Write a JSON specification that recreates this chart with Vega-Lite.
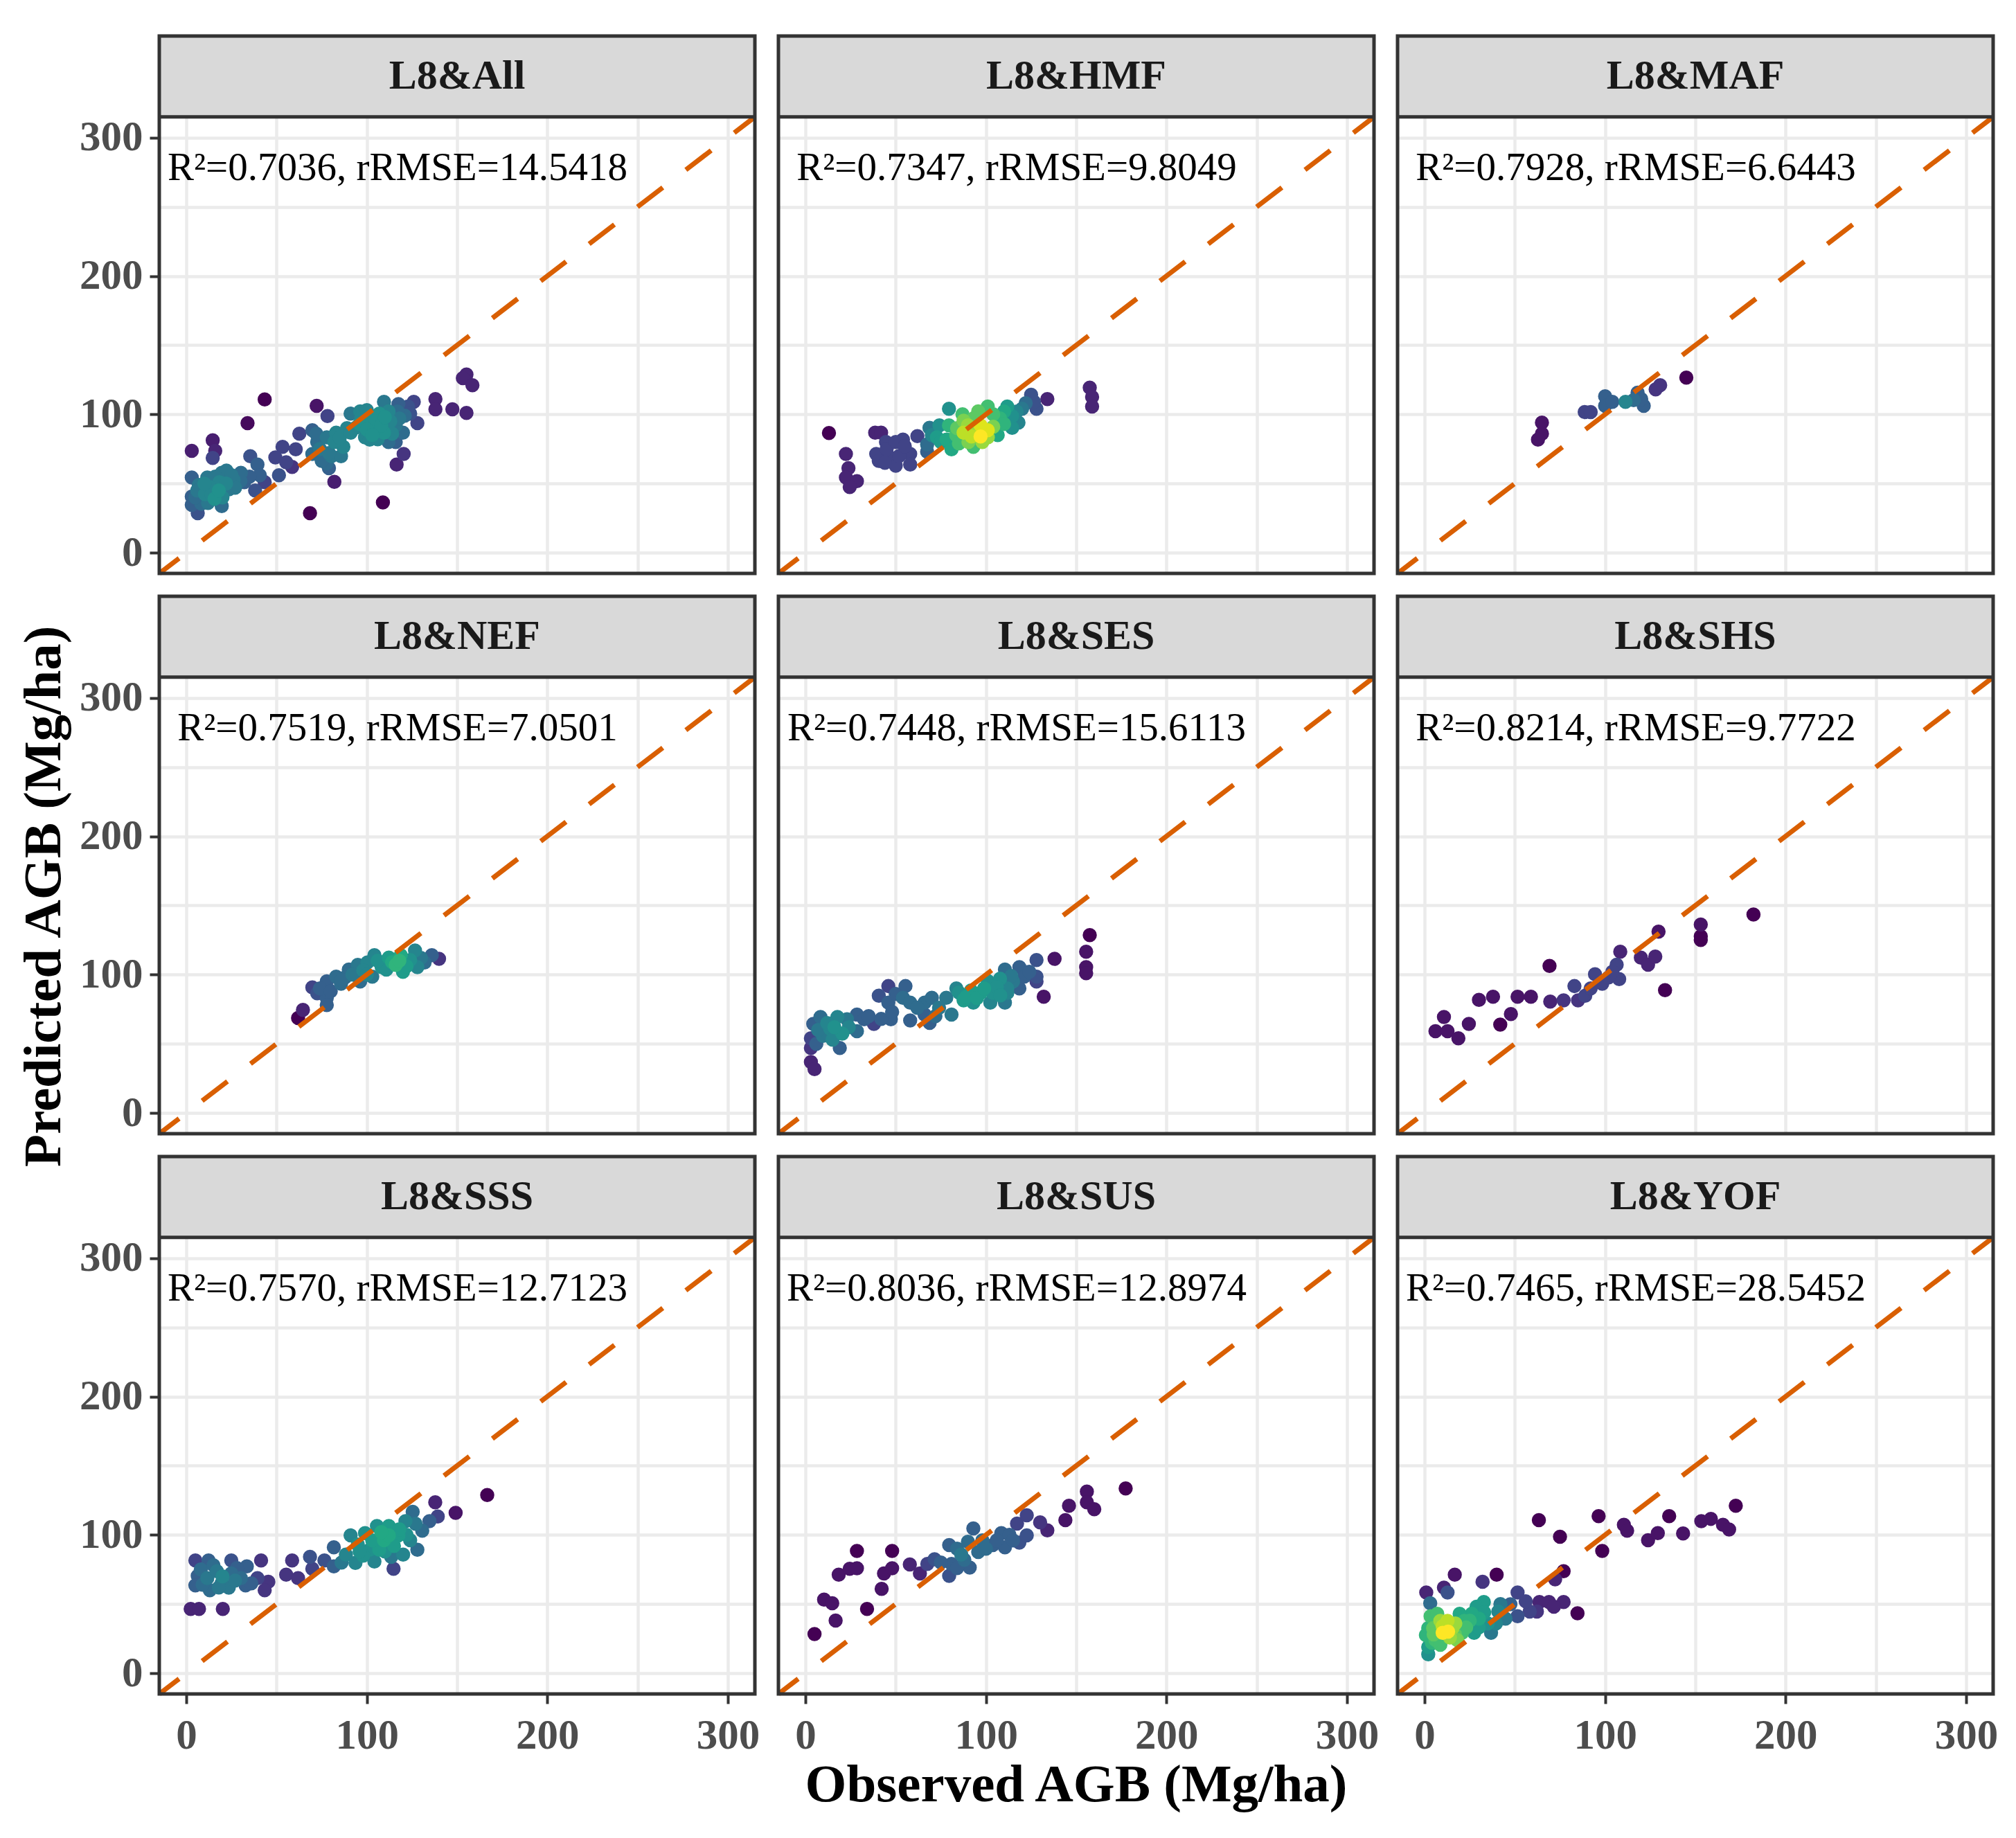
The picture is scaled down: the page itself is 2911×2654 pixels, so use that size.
{
  "$schema": "https://vega.github.io/schema/vega-lite/v6.json",
  "background": "white",
  "padding": {"left": 24, "top": 48, "right": 20, "bottom": 10},
  "bounds": "flush",
  "title": {"text": "Predicted AGB (Mg/ha)", "orient": "left", "anchor": "middle", "font": "Liberation Serif", "fontSize": 77, "fontWeight": "bold", "color": "#000000", "offset": 12, "dx": 38},
  "data": {"values": [
    {"p":"L8&All","k":"lab","label":"R²=0.7036, rRMSE=14.5418"},
    {"p":"L8&HMF","k":"lab","label":"R²=0.7347, rRMSE=9.8049"},
    {"p":"L8&MAF","k":"lab","label":"R²=0.7928, rRMSE=6.6443"},
    {"p":"L8&NEF","k":"lab","label":"R²=0.7519, rRMSE=7.0501"},
    {"p":"L8&SES","k":"lab","label":"R²=0.7448, rRMSE=15.6113"},
    {"p":"L8&SHS","k":"lab","label":"R²=0.8214, rRMSE=9.7722"},
    {"p":"L8&SSS","k":"lab","label":"R²=0.7570, rRMSE=12.7123"},
    {"p":"L8&SUS","k":"lab","label":"R²=0.8036, rRMSE=12.8974"},
    {"p":"L8&YOF","k":"lab","label":"R²=0.7465, rRMSE=28.5452"},
    {"p":"L8&All","k":"pt","x":43.4,"y":110.8,"d":0},
    {"p":"L8&All","k":"pt","x":33.9,"y":93.7,"d":0.02},
    {"p":"L8&All","k":"pt","x":14.6,"y":81.2,"d":0.08},
    {"p":"L8&All","k":"pt","x":3.0,"y":73.6,"d":0.08},
    {"p":"L8&All","k":"pt","x":16,"y":73.6,"d":0.1},
    {"p":"L8&All","k":"pt","x":14.6,"y":68.5,"d":0.2},
    {"p":"L8&All","k":"pt","x":72.2,"y":106.2,"d":0.05},
    {"p":"L8&All","k":"pt","x":78.2,"y":98.8,"d":0.2},
    {"p":"L8&All","k":"pt","x":82,"y":51.2,"d":0.08},
    {"p":"L8&All","k":"pt","x":68.5,"y":28.6,"d":0},
    {"p":"L8&All","k":"pt","x":108.9,"y":36.3,"d":0},
    {"p":"L8&All","k":"pt","x":138,"y":111,"d":0.1},
    {"p":"L8&All","k":"pt","x":138,"y":103.6,"d":0.1},
    {"p":"L8&All","k":"pt","x":147.4,"y":103.6,"d":0.1},
    {"p":"L8&All","k":"pt","x":155.2,"y":101,"d":0.1},
    {"p":"L8&All","k":"pt","x":155.2,"y":128.8,"d":0.1},
    {"p":"L8&All","k":"pt","x":153.2,"y":126.2,"d":0.1},
    {"p":"L8&All","k":"pt","x":158.5,"y":121,"d":0.1},
    {"p":"L8&All","k":"pt","x":116.5,"y":63.7,"d":0.1},
    {"p":"L8&All","k":"pt","x":120.4,"y":71.4,"d":0.15},
    {"p":"L8&All","k":"pt","x":128,"y":93.7,"d":0.2},
    {"p":"L8&All","k":"pt","x":126,"y":109,"d":0.2},
    {"p":"L8&All","k":"pt","x":62.6,"y":86,"d":0.2},
    {"p":"L8&All","k":"pt","x":53.3,"y":76.5,"d":0.2},
    {"p":"L8&All","k":"pt","x":60.6,"y":74.8,"d":0.2},
    {"p":"L8&All","k":"pt","x":49.3,"y":68.8,"d":0.2},
    {"p":"L8&All","k":"pt","x":58.6,"y":62,"d":0.15},
    {"p":"L8&All","k":"pt","x":51.3,"y":56,"d":0.25},
    {"p":"L8&All","k":"pt","x":55.3,"y":65.4,"d":0.2},
    {"p":"L8&All","k":"pt","x":43.4,"y":50.9,"d":0.2},
    {"p":"L8&All","k":"pt","x":38.1,"y":44.9,"d":0.25},
    {"p":"L8&All","k":"pt","x":35.4,"y":69.7,"d":0.25},
    {"p":"L8&All","k":"pt","x":39.4,"y":63.7,"d":0.3},
    {"p":"L8&All","k":"pt","x":40.7,"y":56,"d":0.3},
    {"p":"L8&All","k":"pt","x":3,"y":54.3,"d":0.3},
    {"p":"L8&All","k":"pt","x":3,"y":40.6,"d":0.3},
    {"p":"L8&All","k":"pt","x":3,"y":34.6,"d":0.3},
    {"p":"L8&All","k":"pt","x":6.3,"y":28.6,"d":0.25},
    {"p":"L8&All","k":"pt","x":6.9,"y":49,"d":0.4},
    {"p":"L8&All","k":"pt","x":10.3,"y":42.3,"d":0.45},
    {"p":"L8&All","k":"pt","x":11.6,"y":54.3,"d":0.4},
    {"p":"L8&All","k":"pt","x":15.6,"y":38.9,"d":0.5},
    {"p":"L8&All","k":"pt","x":18.3,"y":50.9,"d":0.45},
    {"p":"L8&All","k":"pt","x":19.6,"y":57.7,"d":0.4},
    {"p":"L8&All","k":"pt","x":22.2,"y":59.4,"d":0.4},
    {"p":"L8&All","k":"pt","x":23.5,"y":45.7,"d":0.4},
    {"p":"L8&All","k":"pt","x":26.2,"y":52.6,"d":0.4},
    {"p":"L8&All","k":"pt","x":30.2,"y":57.7,"d":0.35},
    {"p":"L8&All","k":"pt","x":19.6,"y":33.7,"d":0.35},
    {"p":"L8&All","k":"pt","x":8.3,"y":35.4,"d":0.35},
    {"p":"L8&All","k":"pt","x":13,"y":47.4,"d":0.45},
    {"p":"L8&All","k":"pt","x":32.1,"y":50.9,"d":0.3},
    {"p":"L8&All","k":"pt","x":6,"y":45,"d":0.4},
    {"p":"L8&All","k":"pt","x":14,"y":42,"d":0.45},
    {"p":"L8&All","k":"pt","x":18,"y":45,"d":0.5},
    {"p":"L8&All","k":"pt","x":22,"y":50,"d":0.45},
    {"p":"L8&All","k":"pt","x":27,"y":47,"d":0.4},
    {"p":"L8&All","k":"pt","x":10,"y":50,"d":0.45},
    {"p":"L8&All","k":"pt","x":16,"y":55,"d":0.4},
    {"p":"L8&All","k":"pt","x":25,"y":56,"d":0.4},
    {"p":"L8&All","k":"pt","x":12,"y":36,"d":0.4},
    {"p":"L8&All","k":"pt","x":5,"y":40,"d":0.35},
    {"p":"L8&All","k":"pt","x":30,"y":52,"d":0.35},
    {"p":"L8&All","k":"pt","x":20,"y":40,"d":0.45},
    {"p":"L8&All","k":"pt","x":35,"y":55,"d":0.3},
    {"p":"L8&All","k":"pt","x":69.8,"y":88.5,"d":0.3},
    {"p":"L8&All","k":"pt","x":72.5,"y":80,"d":0.35},
    {"p":"L8&All","k":"pt","x":77.8,"y":83.4,"d":0.4},
    {"p":"L8&All","k":"pt","x":83,"y":86.8,"d":0.45},
    {"p":"L8&All","k":"pt","x":87,"y":76.5,"d":0.45},
    {"p":"L8&All","k":"pt","x":80.4,"y":69.7,"d":0.4},
    {"p":"L8&All","k":"pt","x":85.7,"y":69.7,"d":0.4},
    {"p":"L8&All","k":"pt","x":77.8,"y":64.6,"d":0.35},
    {"p":"L8&All","k":"pt","x":69.8,"y":71.4,"d":0.35},
    {"p":"L8&All","k":"pt","x":79,"y":61.1,"d":0.3},
    {"p":"L8&All","k":"pt","x":75,"y":66.3,"d":0.35},
    {"p":"L8&All","k":"pt","x":74,"y":75,"d":0.4},
    {"p":"L8&All","k":"pt","x":82,"y":80,"d":0.45},
    {"p":"L8&All","k":"pt","x":79,"y":72,"d":0.4},
    {"p":"L8&All","k":"pt","x":85,"y":83,"d":0.45},
    {"p":"L8&All","k":"pt","x":89,"y":90,"d":0.45},
    {"p":"L8&All","k":"pt","x":72,"y":86,"d":0.35},
    {"p":"L8&All","k":"pt","x":91,"y":100.5,"d":0.4},
    {"p":"L8&All","k":"pt","x":96.3,"y":102.2,"d":0.45},
    {"p":"L8&All","k":"pt","x":101.6,"y":97,"d":0.5},
    {"p":"L8&All","k":"pt","x":106.9,"y":100.5,"d":0.5},
    {"p":"L8&All","k":"pt","x":112,"y":102.2,"d":0.45},
    {"p":"L8&All","k":"pt","x":104,"y":90.2,"d":0.5},
    {"p":"L8&All","k":"pt","x":109.5,"y":86.8,"d":0.5},
    {"p":"L8&All","k":"pt","x":99,"y":83.4,"d":0.45},
    {"p":"L8&All","k":"pt","x":101.6,"y":81.7,"d":0.45},
    {"p":"L8&All","k":"pt","x":116,"y":92,"d":0.4},
    {"p":"L8&All","k":"pt","x":120,"y":86.8,"d":0.35},
    {"p":"L8&All","k":"pt","x":116,"y":80,"d":0.3},
    {"p":"L8&All","k":"pt","x":112,"y":80,"d":0.35},
    {"p":"L8&All","k":"pt","x":117.5,"y":107.4,"d":0.3},
    {"p":"L8&All","k":"pt","x":122.8,"y":105.7,"d":0.25},
    {"p":"L8&All","k":"pt","x":124,"y":100.5,"d":0.25},
    {"p":"L8&All","k":"pt","x":93.7,"y":90.2,"d":0.45},
    {"p":"L8&All","k":"pt","x":91,"y":86.8,"d":0.45},
    {"p":"L8&All","k":"pt","x":109.5,"y":109,"d":0.4},
    {"p":"L8&All","k":"pt","x":96,"y":93,"d":0.5},
    {"p":"L8&All","k":"pt","x":105,"y":95,"d":0.5},
    {"p":"L8&All","k":"pt","x":100,"y":89,"d":0.5},
    {"p":"L8&All","k":"pt","x":108,"y":92,"d":0.5},
    {"p":"L8&All","k":"pt","x":113,"y":95,"d":0.45},
    {"p":"L8&All","k":"pt","x":103,"y":85,"d":0.5},
    {"p":"L8&All","k":"pt","x":97,"y":98,"d":0.45},
    {"p":"L8&All","k":"pt","x":110,"y":98,"d":0.5},
    {"p":"L8&All","k":"pt","x":106,"y":82,"d":0.45},
    {"p":"L8&All","k":"pt","x":118,"y":97,"d":0.4},
    {"p":"L8&All","k":"pt","x":114,"y":86,"d":0.45},
    {"p":"L8&All","k":"pt","x":121,"y":99,"d":0.35},
    {"p":"L8&All","k":"pt","x":117,"y":102,"d":0.35},
    {"p":"L8&All","k":"pt","x":100,"y":103,"d":0.45},
    {"p":"L8&HMF","k":"pt","x":13,"y":86.5,"d":0},
    {"p":"L8&HMF","k":"pt","x":22.4,"y":71.4,"d":0.1},
    {"p":"L8&HMF","k":"pt","x":23.8,"y":61.1,"d":0.1},
    {"p":"L8&HMF","k":"pt","x":22.4,"y":54.3,"d":0.1},
    {"p":"L8&HMF","k":"pt","x":28.5,"y":51.7,"d":0.1},
    {"p":"L8&HMF","k":"pt","x":24.5,"y":47.4,"d":0.1},
    {"p":"L8&HMF","k":"pt","x":38.6,"y":86.8,"d":0.1},
    {"p":"L8&HMF","k":"pt","x":41.9,"y":86.8,"d":0.1},
    {"p":"L8&HMF","k":"pt","x":44.6,"y":80,"d":0.2},
    {"p":"L8&HMF","k":"pt","x":54,"y":81.7,"d":0.2},
    {"p":"L8&HMF","k":"pt","x":62,"y":84.2,"d":0.2},
    {"p":"L8&HMF","k":"pt","x":39.2,"y":71.4,"d":0.2},
    {"p":"L8&HMF","k":"pt","x":46,"y":69.7,"d":0.2},
    {"p":"L8&HMF","k":"pt","x":58,"y":71.4,"d":0.2},
    {"p":"L8&HMF","k":"pt","x":40.6,"y":66.3,"d":0.2},
    {"p":"L8&HMF","k":"pt","x":50,"y":62.8,"d":0.2},
    {"p":"L8&HMF","k":"pt","x":58,"y":63.7,"d":0.2},
    {"p":"L8&HMF","k":"pt","x":45,"y":75,"d":0.2},
    {"p":"L8&HMF","k":"pt","x":52,"y":70,"d":0.2},
    {"p":"L8&HMF","k":"pt","x":50,"y":80,"d":0.2},
    {"p":"L8&HMF","k":"pt","x":55,"y":77,"d":0.2},
    {"p":"L8&HMF","k":"pt","x":44,"y":65,"d":0.2},
    {"p":"L8&HMF","k":"pt","x":79.5,"y":104,"d":0.5},
    {"p":"L8&HMF","k":"pt","x":68.7,"y":90.2,"d":0.4},
    {"p":"L8&HMF","k":"pt","x":67.4,"y":78.2,"d":0.35},
    {"p":"L8&HMF","k":"pt","x":67.4,"y":73,"d":0.3},
    {"p":"L8&HMF","k":"pt","x":74.2,"y":92,"d":0.5},
    {"p":"L8&HMF","k":"pt","x":72.8,"y":83.4,"d":0.55},
    {"p":"L8&HMF","k":"pt","x":79.5,"y":92,"d":0.65},
    {"p":"L8&HMF","k":"pt","x":78.2,"y":81.7,"d":0.6},
    {"p":"L8&HMF","k":"pt","x":80.9,"y":74.8,"d":0.6},
    {"p":"L8&HMF","k":"pt","x":87.6,"y":95.4,"d":0.8},
    {"p":"L8&HMF","k":"pt","x":87.6,"y":86.8,"d":0.9},
    {"p":"L8&HMF","k":"pt","x":90.3,"y":80,"d":0.8},
    {"p":"L8&HMF","k":"pt","x":93,"y":76.5,"d":0.7},
    {"p":"L8&HMF","k":"pt","x":95.7,"y":102.2,"d":0.75},
    {"p":"L8&HMF","k":"pt","x":95.7,"y":88.5,"d":0.85},
    {"p":"L8&HMF","k":"pt","x":101,"y":105.7,"d":0.7},
    {"p":"L8&HMF","k":"pt","x":101,"y":88.5,"d":0.95},
    {"p":"L8&HMF","k":"pt","x":101,"y":83.4,"d":0.85},
    {"p":"L8&HMF","k":"pt","x":106.5,"y":85,"d":0.6},
    {"p":"L8&HMF","k":"pt","x":107.8,"y":97,"d":0.65},
    {"p":"L8&HMF","k":"pt","x":111.8,"y":105.7,"d":0.55},
    {"p":"L8&HMF","k":"pt","x":114.5,"y":90.2,"d":0.5},
    {"p":"L8&HMF","k":"pt","x":114.5,"y":98.8,"d":0.5},
    {"p":"L8&HMF","k":"pt","x":120,"y":104,"d":0.4},
    {"p":"L8&HMF","k":"pt","x":125,"y":114.2,"d":0.25},
    {"p":"L8&HMF","k":"pt","x":128,"y":104,"d":0.25},
    {"p":"L8&HMF","k":"pt","x":126.6,"y":109,"d":0.25},
    {"p":"L8&HMF","k":"pt","x":134,"y":111,"d":0.1},
    {"p":"L8&HMF","k":"pt","x":157.5,"y":119.3,"d":0.1},
    {"p":"L8&HMF","k":"pt","x":158.8,"y":112.5,"d":0.1},
    {"p":"L8&HMF","k":"pt","x":158.8,"y":105.7,"d":0.1},
    {"p":"L8&HMF","k":"pt","x":93,"y":97,"d":0.75},
    {"p":"L8&HMF","k":"pt","x":83.5,"y":85,"d":0.7},
    {"p":"L8&HMF","k":"pt","x":70,"y":85,"d":0.45},
    {"p":"L8&HMF","k":"pt","x":75,"y":80,"d":0.55},
    {"p":"L8&HMF","k":"pt","x":84,"y":90,"d":0.75},
    {"p":"L8&HMF","k":"pt","x":85,"y":79,"d":0.7},
    {"p":"L8&HMF","k":"pt","x":90,"y":92,"d":0.85},
    {"p":"L8&HMF","k":"pt","x":92,"y":84,"d":0.9},
    {"p":"L8&HMF","k":"pt","x":97,"y":92,"d":0.95},
    {"p":"L8&HMF","k":"pt","x":98,"y":80,"d":0.85},
    {"p":"L8&HMF","k":"pt","x":104,"y":91,"d":0.8},
    {"p":"L8&HMF","k":"pt","x":104,"y":100,"d":0.7},
    {"p":"L8&HMF","k":"pt","x":110,"y":93,"d":0.65},
    {"p":"L8&HMF","k":"pt","x":110,"y":102,"d":0.6},
    {"p":"L8&HMF","k":"pt","x":117,"y":102,"d":0.45},
    {"p":"L8&HMF","k":"pt","x":122,"y":108,"d":0.35},
    {"p":"L8&HMF","k":"pt","x":87,"y":100,"d":0.7},
    {"p":"L8&HMF","k":"pt","x":97,"y":84,"d":1.0},
    {"p":"L8&HMF","k":"pt","x":118,"y":94,"d":0.45},
    {"p":"L8&MAF","k":"pt","x":65,"y":94,"d":0.05},
    {"p":"L8&MAF","k":"pt","x":65,"y":86,"d":0.05},
    {"p":"L8&MAF","k":"pt","x":62.8,"y":81.8,"d":0.05},
    {"p":"L8&MAF","k":"pt","x":88.7,"y":101.6,"d":0.2},
    {"p":"L8&MAF","k":"pt","x":92,"y":101.6,"d":0.2},
    {"p":"L8&MAF","k":"pt","x":100,"y":113,"d":0.3},
    {"p":"L8&MAF","k":"pt","x":100,"y":106.2,"d":0.3},
    {"p":"L8&MAF","k":"pt","x":104,"y":109,"d":0.3},
    {"p":"L8&MAF","k":"pt","x":111.3,"y":109,"d":0.45},
    {"p":"L8&MAF","k":"pt","x":118,"y":115.7,"d":0.3},
    {"p":"L8&MAF","k":"pt","x":121.4,"y":106.2,"d":0.3},
    {"p":"L8&MAF","k":"pt","x":115.8,"y":110.3,"d":0.35},
    {"p":"L8&MAF","k":"pt","x":120,"y":111,"d":0.3},
    {"p":"L8&MAF","k":"pt","x":130.5,"y":121,"d":0.15},
    {"p":"L8&MAF","k":"pt","x":128,"y":118,"d":0.15},
    {"p":"L8&MAF","k":"pt","x":145,"y":126.6,"d":0},
    {"p":"L8&NEF","k":"pt","x":64.6,"y":74.5,"d":0.1},
    {"p":"L8&NEF","k":"pt","x":61.9,"y":68.6,"d":0},
    {"p":"L8&NEF","k":"pt","x":69.8,"y":90.8,"d":0.2},
    {"p":"L8&NEF","k":"pt","x":72.5,"y":86.5,"d":0.25},
    {"p":"L8&NEF","k":"pt","x":77.8,"y":95.1,"d":0.3},
    {"p":"L8&NEF","k":"pt","x":77.8,"y":83.1,"d":0.3},
    {"p":"L8&NEF","k":"pt","x":83,"y":98.5,"d":0.35},
    {"p":"L8&NEF","k":"pt","x":85.7,"y":93.4,"d":0.35},
    {"p":"L8&NEF","k":"pt","x":90,"y":103.7,"d":0.35},
    {"p":"L8&NEF","k":"pt","x":95,"y":107,"d":0.4},
    {"p":"L8&NEF","k":"pt","x":96.3,"y":95,"d":0.35},
    {"p":"L8&NEF","k":"pt","x":100.3,"y":108.8,"d":0.45},
    {"p":"L8&NEF","k":"pt","x":104.2,"y":114,"d":0.45},
    {"p":"L8&NEF","k":"pt","x":108.2,"y":105.4,"d":0.5},
    {"p":"L8&NEF","k":"pt","x":112.2,"y":112.3,"d":0.55},
    {"p":"L8&NEF","k":"pt","x":116,"y":107,"d":0.65},
    {"p":"L8&NEF","k":"pt","x":118.8,"y":114,"d":0.6},
    {"p":"L8&NEF","k":"pt","x":120,"y":102,"d":0.55},
    {"p":"L8&NEF","k":"pt","x":124,"y":110.5,"d":0.5},
    {"p":"L8&NEF","k":"pt","x":126.7,"y":117.4,"d":0.45},
    {"p":"L8&NEF","k":"pt","x":128,"y":105.4,"d":0.45},
    {"p":"L8&NEF","k":"pt","x":132,"y":108.8,"d":0.35},
    {"p":"L8&NEF","k":"pt","x":136,"y":114,"d":0.3},
    {"p":"L8&NEF","k":"pt","x":140,"y":111.4,"d":0.15},
    {"p":"L8&NEF","k":"pt","x":103,"y":98.5,"d":0.4},
    {"p":"L8&NEF","k":"pt","x":110.8,"y":103.7,"d":0.5},
    {"p":"L8&NEF","k":"pt","x":77.8,"y":78,"d":0.3},
    {"p":"L8&NEF","k":"pt","x":74,"y":90,"d":0.3},
    {"p":"L8&NEF","k":"pt","x":80,"y":88,"d":0.3},
    {"p":"L8&NEF","k":"pt","x":88,"y":98,"d":0.35},
    {"p":"L8&NEF","k":"pt","x":92,"y":100,"d":0.4},
    {"p":"L8&NEF","k":"pt","x":98,"y":103,"d":0.45},
    {"p":"L8&NEF","k":"pt","x":106,"y":110,"d":0.5},
    {"p":"L8&NEF","k":"pt","x":114,"y":109,"d":0.6},
    {"p":"L8&NEF","k":"pt","x":122,"y":106,"d":0.55},
    {"p":"L8&NEF","k":"pt","x":118,"y":110,"d":0.65},
    {"p":"L8&NEF","k":"pt","x":130,"y":112,"d":0.4},
    {"p":"L8&NEF","k":"pt","x":86,"y":96,"d":0.35},
    {"p":"L8&NEF","k":"pt","x":100,"y":100,"d":0.45},
    {"p":"L8&SES","k":"pt","x":3,"y":47,"d":0.15},
    {"p":"L8&SES","k":"pt","x":3,"y":36.8,"d":0.1},
    {"p":"L8&SES","k":"pt","x":5,"y":31.7,"d":0.1},
    {"p":"L8&SES","k":"pt","x":3,"y":54,"d":0.2},
    {"p":"L8&SES","k":"pt","x":4.3,"y":64.3,"d":0.3},
    {"p":"L8&SES","k":"pt","x":8.3,"y":69.4,"d":0.35},
    {"p":"L8&SES","k":"pt","x":9.7,"y":55.7,"d":0.4},
    {"p":"L8&SES","k":"pt","x":13.7,"y":60.8,"d":0.45},
    {"p":"L8&SES","k":"pt","x":17.7,"y":69.4,"d":0.45},
    {"p":"L8&SES","k":"pt","x":20.4,"y":57.4,"d":0.5},
    {"p":"L8&SES","k":"pt","x":19,"y":47,"d":0.3},
    {"p":"L8&SES","k":"pt","x":23,"y":67.7,"d":0.4},
    {"p":"L8&SES","k":"pt","x":28.5,"y":71.1,"d":0.3},
    {"p":"L8&SES","k":"pt","x":28.5,"y":59.1,"d":0.35},
    {"p":"L8&SES","k":"pt","x":32.5,"y":67.7,"d":0.3},
    {"p":"L8&SES","k":"pt","x":37.9,"y":64.3,"d":0.2},
    {"p":"L8&SES","k":"pt","x":47.3,"y":67.7,"d":0.3},
    {"p":"L8&SES","k":"pt","x":40.6,"y":84.8,"d":0.25},
    {"p":"L8&SES","k":"pt","x":45.9,"y":91.7,"d":0.2},
    {"p":"L8&SES","k":"pt","x":55.4,"y":91.7,"d":0.3},
    {"p":"L8&SES","k":"pt","x":45.9,"y":79.7,"d":0.3},
    {"p":"L8&SES","k":"pt","x":54,"y":83.2,"d":0.35},
    {"p":"L8&SES","k":"pt","x":58,"y":79.7,"d":0.35},
    {"p":"L8&SES","k":"pt","x":66,"y":79.7,"d":0.35},
    {"p":"L8&SES","k":"pt","x":70,"y":83.2,"d":0.35},
    {"p":"L8&SES","k":"pt","x":58,"y":66.8,"d":0.3},
    {"p":"L8&SES","k":"pt","x":66,"y":71.1,"d":0.3},
    {"p":"L8&SES","k":"pt","x":68.8,"y":65.1,"d":0.3},
    {"p":"L8&SES","k":"pt","x":78,"y":83.2,"d":0.4},
    {"p":"L8&SES","k":"pt","x":80.9,"y":71.1,"d":0.4},
    {"p":"L8&SES","k":"pt","x":83.6,"y":90,"d":0.45},
    {"p":"L8&SES","k":"pt","x":87.6,"y":81.4,"d":0.55},
    {"p":"L8&SES","k":"pt","x":91.7,"y":88.5,"d":0.55},
    {"p":"L8&SES","k":"pt","x":93,"y":79.7,"d":0.5},
    {"p":"L8&SES","k":"pt","x":97,"y":86.8,"d":0.55},
    {"p":"L8&SES","k":"pt","x":101,"y":95.4,"d":0.5},
    {"p":"L8&SES","k":"pt","x":102.4,"y":79.7,"d":0.45},
    {"p":"L8&SES","k":"pt","x":103.8,"y":86.8,"d":0.5},
    {"p":"L8&SES","k":"pt","x":107.8,"y":97,"d":0.5},
    {"p":"L8&SES","k":"pt","x":110.5,"y":79.7,"d":0.4},
    {"p":"L8&SES","k":"pt","x":111.8,"y":86.8,"d":0.45},
    {"p":"L8&SES","k":"pt","x":110.5,"y":103.7,"d":0.35},
    {"p":"L8&SES","k":"pt","x":111.8,"y":90,"d":0.45},
    {"p":"L8&SES","k":"pt","x":118.5,"y":90,"d":0.3},
    {"p":"L8&SES","k":"pt","x":118.5,"y":105.4,"d":0.3},
    {"p":"L8&SES","k":"pt","x":121.2,"y":98.5,"d":0.3},
    {"p":"L8&SES","k":"pt","x":128,"y":110.5,"d":0.25},
    {"p":"L8&SES","k":"pt","x":128,"y":98.5,"d":0.25},
    {"p":"L8&SES","k":"pt","x":128,"y":95,"d":0.2},
    {"p":"L8&SES","k":"pt","x":138,"y":111.4,"d":0.05},
    {"p":"L8&SES","k":"pt","x":132,"y":84,"d":0.05},
    {"p":"L8&SES","k":"pt","x":157.5,"y":128.5,"d":0},
    {"p":"L8&SES","k":"pt","x":155.5,"y":116.5,"d":0.05},
    {"p":"L8&SES","k":"pt","x":155.5,"y":105.4,"d":0.05},
    {"p":"L8&SES","k":"pt","x":155.5,"y":101,"d":0.05},
    {"p":"L8&SES","k":"pt","x":7,"y":60,"d":0.4},
    {"p":"L8&SES","k":"pt","x":12,"y":65,"d":0.45},
    {"p":"L8&SES","k":"pt","x":16,"y":62,"d":0.5},
    {"p":"L8&SES","k":"pt","x":15,"y":53,"d":0.45},
    {"p":"L8&SES","k":"pt","x":24,"y":62,"d":0.45},
    {"p":"L8&SES","k":"pt","x":6,"y":50,"d":0.3},
    {"p":"L8&SES","k":"pt","x":35,"y":70,"d":0.3},
    {"p":"L8&SES","k":"pt","x":42,"y":68,"d":0.3},
    {"p":"L8&SES","k":"pt","x":50,"y":86,"d":0.3},
    {"p":"L8&SES","k":"pt","x":48,"y":73,"d":0.3},
    {"p":"L8&SES","k":"pt","x":62,"y":76,"d":0.35},
    {"p":"L8&SES","k":"pt","x":74,"y":76,"d":0.4},
    {"p":"L8&SES","k":"pt","x":85,"y":87,"d":0.5},
    {"p":"L8&SES","k":"pt","x":89,"y":84,"d":0.55},
    {"p":"L8&SES","k":"pt","x":95,"y":83,"d":0.55},
    {"p":"L8&SES","k":"pt","x":99,"y":90,"d":0.55},
    {"p":"L8&SES","k":"pt","x":106,"y":91,"d":0.5},
    {"p":"L8&SES","k":"pt","x":115,"y":95,"d":0.4},
    {"p":"L8&SES","k":"pt","x":108,"y":85,"d":0.5},
    {"p":"L8&SES","k":"pt","x":124,"y":102,"d":0.3},
    {"p":"L8&SES","k":"pt","x":114,"y":99,"d":0.4},
    {"p":"L8&SES","k":"pt","x":72,"y":70,"d":0.35},
    {"p":"L8&SHS","k":"pt","x":6,"y":59.1,"d":0.05},
    {"p":"L8&SHS","k":"pt","x":10.7,"y":69.4,"d":0.05},
    {"p":"L8&SHS","k":"pt","x":12.7,"y":59.1,"d":0.05},
    {"p":"L8&SHS","k":"pt","x":18.7,"y":54,"d":0.05},
    {"p":"L8&SHS","k":"pt","x":24.5,"y":64.3,"d":0.05},
    {"p":"L8&SHS","k":"pt","x":30.1,"y":81.7,"d":0.05},
    {"p":"L8&SHS","k":"pt","x":37.9,"y":84,"d":0.05},
    {"p":"L8&SHS","k":"pt","x":41.9,"y":63.9,"d":0},
    {"p":"L8&SHS","k":"pt","x":47.8,"y":71.5,"d":0.05},
    {"p":"L8&SHS","k":"pt","x":51.5,"y":84,"d":0.05},
    {"p":"L8&SHS","k":"pt","x":58.9,"y":84,"d":0.05},
    {"p":"L8&SHS","k":"pt","x":69.2,"y":106.3,"d":0},
    {"p":"L8&SHS","k":"pt","x":69.6,"y":80.5,"d":0.1},
    {"p":"L8&SHS","k":"pt","x":77,"y":81.4,"d":0.15},
    {"p":"L8&SHS","k":"pt","x":85,"y":81.4,"d":0.15},
    {"p":"L8&SHS","k":"pt","x":83,"y":91.7,"d":0.2},
    {"p":"L8&SHS","k":"pt","x":89,"y":84.8,"d":0.2},
    {"p":"L8&SHS","k":"pt","x":94.4,"y":100.3,"d":0.2},
    {"p":"L8&SHS","k":"pt","x":98.4,"y":93.4,"d":0.2},
    {"p":"L8&SHS","k":"pt","x":106.4,"y":107.1,"d":0.2},
    {"p":"L8&SHS","k":"pt","x":107.8,"y":96.8,"d":0.2},
    {"p":"L8&SHS","k":"pt","x":92,"y":90,"d":0.2},
    {"p":"L8&SHS","k":"pt","x":102,"y":98,"d":0.2},
    {"p":"L8&SHS","k":"pt","x":104,"y":102,"d":0.2},
    {"p":"L8&SHS","k":"pt","x":108.4,"y":116.5,"d":0.1},
    {"p":"L8&SHS","k":"pt","x":119.8,"y":112.3,"d":0.1},
    {"p":"L8&SHS","k":"pt","x":123.8,"y":107.1,"d":0.1},
    {"p":"L8&SHS","k":"pt","x":127.8,"y":113.1,"d":0.1},
    {"p":"L8&SHS","k":"pt","x":129.6,"y":131.1,"d":0.05},
    {"p":"L8&SHS","k":"pt","x":133.2,"y":88.8,"d":0},
    {"p":"L8&SHS","k":"pt","x":153,"y":136.2,"d":0.05},
    {"p":"L8&SHS","k":"pt","x":153,"y":127.7,"d":0},
    {"p":"L8&SHS","k":"pt","x":153,"y":125.1,"d":0},
    {"p":"L8&SHS","k":"pt","x":182.2,"y":143.4,"d":0},
    {"p":"L8&SSS","k":"pt","x":2.4,"y":46.4,"d":0.1},
    {"p":"L8&SSS","k":"pt","x":7,"y":46.4,"d":0.1},
    {"p":"L8&SSS","k":"pt","x":20.2,"y":46.4,"d":0.1},
    {"p":"L8&SSS","k":"pt","x":5,"y":81.5,"d":0.2},
    {"p":"L8&SSS","k":"pt","x":12.3,"y":81.5,"d":0.3},
    {"p":"L8&SSS","k":"pt","x":24.9,"y":81.5,"d":0.25},
    {"p":"L8&SSS","k":"pt","x":33.5,"y":77.3,"d":0.3},
    {"p":"L8&SSS","k":"pt","x":41.4,"y":81.5,"d":0.15},
    {"p":"L8&SSS","k":"pt","x":6.3,"y":70.4,"d":0.3},
    {"p":"L8&SSS","k":"pt","x":5,"y":63.5,"d":0.3},
    {"p":"L8&SSS","k":"pt","x":13,"y":60,"d":0.35},
    {"p":"L8&SSS","k":"pt","x":11.6,"y":68.7,"d":0.4},
    {"p":"L8&SSS","k":"pt","x":16.9,"y":73.8,"d":0.4},
    {"p":"L8&SSS","k":"pt","x":19.6,"y":65.2,"d":0.4},
    {"p":"L8&SSS","k":"pt","x":23.5,"y":61.8,"d":0.4},
    {"p":"L8&SSS","k":"pt","x":24.9,"y":72.1,"d":0.35},
    {"p":"L8&SSS","k":"pt","x":30.2,"y":68.7,"d":0.35},
    {"p":"L8&SSS","k":"pt","x":32.8,"y":63.5,"d":0.3},
    {"p":"L8&SSS","k":"pt","x":39.4,"y":68.7,"d":0.2},
    {"p":"L8&SSS","k":"pt","x":45.4,"y":66.1,"d":0.15},
    {"p":"L8&SSS","k":"pt","x":43.4,"y":60,"d":0.15},
    {"p":"L8&SSS","k":"pt","x":8,"y":75,"d":0.35},
    {"p":"L8&SSS","k":"pt","x":15,"y":78,"d":0.35},
    {"p":"L8&SSS","k":"pt","x":20,"y":70,"d":0.45},
    {"p":"L8&SSS","k":"pt","x":27,"y":67,"d":0.4},
    {"p":"L8&SSS","k":"pt","x":9,"y":64,"d":0.35},
    {"p":"L8&SSS","k":"pt","x":18,"y":62,"d":0.4},
    {"p":"L8&SSS","k":"pt","x":28,"y":76,"d":0.3},
    {"p":"L8&SSS","k":"pt","x":36,"y":65,"d":0.3},
    {"p":"L8&SSS","k":"pt","x":55.3,"y":71.2,"d":0.15},
    {"p":"L8&SSS","k":"pt","x":58.6,"y":81.5,"d":0.15},
    {"p":"L8&SSS","k":"pt","x":61.9,"y":68.7,"d":0.15},
    {"p":"L8&SSS","k":"pt","x":68.5,"y":84.1,"d":0.25},
    {"p":"L8&SSS","k":"pt","x":69.8,"y":75.5,"d":0.2},
    {"p":"L8&SSS","k":"pt","x":76.5,"y":81.5,"d":0.25},
    {"p":"L8&SSS","k":"pt","x":81.7,"y":91,"d":0.3},
    {"p":"L8&SSS","k":"pt","x":81.7,"y":77.3,"d":0.3},
    {"p":"L8&SSS","k":"pt","x":88.4,"y":85.8,"d":0.45},
    {"p":"L8&SSS","k":"pt","x":91,"y":99.6,"d":0.45},
    {"p":"L8&SSS","k":"pt","x":93.7,"y":79.8,"d":0.45},
    {"p":"L8&SSS","k":"pt","x":99,"y":101.3,"d":0.5},
    {"p":"L8&SSS","k":"pt","x":101.6,"y":89.3,"d":0.5},
    {"p":"L8&SSS","k":"pt","x":104.2,"y":80.7,"d":0.45},
    {"p":"L8&SSS","k":"pt","x":105.6,"y":106.4,"d":0.5},
    {"p":"L8&SSS","k":"pt","x":109.5,"y":96.1,"d":0.6},
    {"p":"L8&SSS","k":"pt","x":112.2,"y":106.4,"d":0.55},
    {"p":"L8&SSS","k":"pt","x":113.5,"y":84.1,"d":0.4},
    {"p":"L8&SSS","k":"pt","x":114.8,"y":75.5,"d":0.2},
    {"p":"L8&SSS","k":"pt","x":117.5,"y":99.6,"d":0.55},
    {"p":"L8&SSS","k":"pt","x":120.1,"y":85.8,"d":0.45},
    {"p":"L8&SSS","k":"pt","x":121.4,"y":109.9,"d":0.45},
    {"p":"L8&SSS","k":"pt","x":124,"y":96.1,"d":0.45},
    {"p":"L8&SSS","k":"pt","x":125.4,"y":116.7,"d":0.35},
    {"p":"L8&SSS","k":"pt","x":128,"y":89.3,"d":0.35},
    {"p":"L8&SSS","k":"pt","x":130.7,"y":103,"d":0.35},
    {"p":"L8&SSS","k":"pt","x":134.7,"y":109.9,"d":0.3},
    {"p":"L8&SSS","k":"pt","x":139.3,"y":113.3,"d":0.2},
    {"p":"L8&SSS","k":"pt","x":137.9,"y":123.6,"d":0.1},
    {"p":"L8&SSS","k":"pt","x":149.2,"y":115.9,"d":0.05},
    {"p":"L8&SSS","k":"pt","x":166.7,"y":128.8,"d":0},
    {"p":"L8&SSS","k":"pt","x":112.2,"y":99.6,"d":0.6},
    {"p":"L8&SSS","k":"pt","x":106.9,"y":89.3,"d":0.55},
    {"p":"L8&SSS","k":"pt","x":95,"y":93,"d":0.5},
    {"p":"L8&SSS","k":"pt","x":98,"y":85,"d":0.5},
    {"p":"L8&SSS","k":"pt","x":103,"y":96,"d":0.55},
    {"p":"L8&SSS","k":"pt","x":108,"y":102,"d":0.6},
    {"p":"L8&SSS","k":"pt","x":115,"y":92,"d":0.55},
    {"p":"L8&SSS","k":"pt","x":118,"y":104,"d":0.55},
    {"p":"L8&SSS","k":"pt","x":110,"y":88,"d":0.5},
    {"p":"L8&SSS","k":"pt","x":122,"y":100,"d":0.5},
    {"p":"L8&SSS","k":"pt","x":127,"y":108,"d":0.4},
    {"p":"L8&SSS","k":"pt","x":86,"y":80,"d":0.4},
    {"p":"L8&SSS","k":"pt","x":96,"y":88,"d":0.5},
    {"p":"L8&SUS","k":"pt","x":5,"y":28.3,"d":0},
    {"p":"L8&SUS","k":"pt","x":10.3,"y":53.2,"d":0.05},
    {"p":"L8&SUS","k":"pt","x":14.8,"y":50.6,"d":0.05},
    {"p":"L8&SUS","k":"pt","x":16.7,"y":38.1,"d":0.05},
    {"p":"L8&SUS","k":"pt","x":34.1,"y":46.4,"d":0},
    {"p":"L8&SUS","k":"pt","x":28.5,"y":88.4,"d":0},
    {"p":"L8&SUS","k":"pt","x":18.4,"y":71.2,"d":0.05},
    {"p":"L8&SUS","k":"pt","x":24.5,"y":75.5,"d":0.05},
    {"p":"L8&SUS","k":"pt","x":28.5,"y":75.9,"d":0.05},
    {"p":"L8&SUS","k":"pt","x":42.2,"y":61,"d":0.05},
    {"p":"L8&SUS","k":"pt","x":43.5,"y":72.1,"d":0.05},
    {"p":"L8&SUS","k":"pt","x":48,"y":88.4,"d":0},
    {"p":"L8&SUS","k":"pt","x":48,"y":75.9,"d":0.05},
    {"p":"L8&SUS","k":"pt","x":57.8,"y":78.6,"d":0.1},
    {"p":"L8&SUS","k":"pt","x":63.4,"y":72.1,"d":0.1},
    {"p":"L8&SUS","k":"pt","x":67.5,"y":79,"d":0.2},
    {"p":"L8&SUS","k":"pt","x":71.5,"y":82.4,"d":0.25},
    {"p":"L8&SUS","k":"pt","x":79.6,"y":70.4,"d":0.25},
    {"p":"L8&SUS","k":"pt","x":79.6,"y":92.7,"d":0.3},
    {"p":"L8&SUS","k":"pt","x":80.9,"y":79,"d":0.3},
    {"p":"L8&SUS","k":"pt","x":86.3,"y":85.8,"d":0.4},
    {"p":"L8&SUS","k":"pt","x":91,"y":76.4,"d":0.3},
    {"p":"L8&SUS","k":"pt","x":93,"y":104.7,"d":0.3},
    {"p":"L8&SUS","k":"pt","x":95.7,"y":87.6,"d":0.35},
    {"p":"L8&SUS","k":"pt","x":103.8,"y":92.7,"d":0.3},
    {"p":"L8&SUS","k":"pt","x":108.5,"y":101.3,"d":0.3},
    {"p":"L8&SUS","k":"pt","x":110.5,"y":91,"d":0.3},
    {"p":"L8&SUS","k":"pt","x":118.5,"y":94.4,"d":0.25},
    {"p":"L8&SUS","k":"pt","x":117.2,"y":108.2,"d":0.2},
    {"p":"L8&SUS","k":"pt","x":122.6,"y":114.2,"d":0.2},
    {"p":"L8&SUS","k":"pt","x":122.6,"y":99.6,"d":0.25},
    {"p":"L8&SUS","k":"pt","x":130,"y":109,"d":0.15},
    {"p":"L8&SUS","k":"pt","x":134,"y":103.3,"d":0.1},
    {"p":"L8&SUS","k":"pt","x":144,"y":110.7,"d":0.05},
    {"p":"L8&SUS","k":"pt","x":146,"y":121,"d":0.05},
    {"p":"L8&SUS","k":"pt","x":155.9,"y":131.3,"d":0.05},
    {"p":"L8&SUS","k":"pt","x":155.9,"y":123.6,"d":0.05},
    {"p":"L8&SUS","k":"pt","x":160,"y":118.5,"d":0.05},
    {"p":"L8&SUS","k":"pt","x":177.4,"y":133.6,"d":0},
    {"p":"L8&SUS","k":"pt","x":75,"y":80,"d":0.3},
    {"p":"L8&SUS","k":"pt","x":84,"y":90,"d":0.35},
    {"p":"L8&SUS","k":"pt","x":88,"y":82,"d":0.35},
    {"p":"L8&SUS","k":"pt","x":90,"y":95,"d":0.35},
    {"p":"L8&SUS","k":"pt","x":98,"y":96,"d":0.35},
    {"p":"L8&SUS","k":"pt","x":100,"y":90,"d":0.35},
    {"p":"L8&SUS","k":"pt","x":106,"y":96,"d":0.3},
    {"p":"L8&SUS","k":"pt","x":113,"y":100,"d":0.3},
    {"p":"L8&SUS","k":"pt","x":115,"y":96,"d":0.3},
    {"p":"L8&SUS","k":"pt","x":84,"y":76,"d":0.3},
    {"p":"L8&YOF","k":"pt","x":0.9,"y":58.4,"d":0.1},
    {"p":"L8&YOF","k":"pt","x":10.7,"y":61.8,"d":0.1},
    {"p":"L8&YOF","k":"pt","x":12.7,"y":58.4,"d":0.25},
    {"p":"L8&YOF","k":"pt","x":16.7,"y":71.2,"d":0.05},
    {"p":"L8&YOF","k":"pt","x":32.1,"y":66.1,"d":0.15},
    {"p":"L8&YOF","k":"pt","x":39.9,"y":71.2,"d":0},
    {"p":"L8&YOF","k":"pt","x":3.1,"y":50.6,"d":0.35},
    {"p":"L8&YOF","k":"pt","x":51.5,"y":58.4,"d":0.2},
    {"p":"L8&YOF","k":"pt","x":63.3,"y":110.7,"d":0},
    {"p":"L8&YOF","k":"pt","x":75,"y":98.7,"d":0},
    {"p":"L8&YOF","k":"pt","x":77,"y":73.8,"d":0},
    {"p":"L8&YOF","k":"pt","x":72.3,"y":67.8,"d":0.1},
    {"p":"L8&YOF","k":"pt","x":84.7,"y":43.3,"d":0},
    {"p":"L8&YOF","k":"pt","x":96.4,"y":113.6,"d":0},
    {"p":"L8&YOF","k":"pt","x":98.4,"y":88.4,"d":0},
    {"p":"L8&YOF","k":"pt","x":110.4,"y":107.3,"d":0.05},
    {"p":"L8&YOF","k":"pt","x":112.2,"y":103,"d":0.05},
    {"p":"L8&YOF","k":"pt","x":123.8,"y":96.1,"d":0.05},
    {"p":"L8&YOF","k":"pt","x":129.2,"y":101.3,"d":0.05},
    {"p":"L8&YOF","k":"pt","x":135.5,"y":113.6,"d":0},
    {"p":"L8&YOF","k":"pt","x":143.2,"y":101,"d":0.05},
    {"p":"L8&YOF","k":"pt","x":153.3,"y":109.9,"d":0.05},
    {"p":"L8&YOF","k":"pt","x":158.6,"y":111.6,"d":0.05},
    {"p":"L8&YOF","k":"pt","x":165.3,"y":107.3,"d":0.05},
    {"p":"L8&YOF","k":"pt","x":168.7,"y":103.9,"d":0.05},
    {"p":"L8&YOF","k":"pt","x":172.4,"y":121,"d":0},
    {"p":"L8&YOF","k":"pt","x":63.6,"y":51.5,"d":0.1},
    {"p":"L8&YOF","k":"pt","x":68.9,"y":51.5,"d":0.1},
    {"p":"L8&YOF","k":"pt","x":77,"y":51.5,"d":0.1},
    {"p":"L8&YOF","k":"pt","x":71.6,"y":48.1,"d":0.1},
    {"p":"L8&YOF","k":"pt","x":62.2,"y":44.6,"d":0.15},
    {"p":"L8&YOF","k":"pt","x":58.2,"y":44.6,"d":0.2},
    {"p":"L8&YOF","k":"pt","x":51.5,"y":41.2,"d":0.25},
    {"p":"L8&YOF","k":"pt","x":47.5,"y":49.8,"d":0.3},
    {"p":"L8&YOF","k":"pt","x":44.8,"y":39.5,"d":0.4},
    {"p":"L8&YOF","k":"pt","x":40.8,"y":44.6,"d":0.45},
    {"p":"L8&YOF","k":"pt","x":36.8,"y":29.2,"d":0.4},
    {"p":"L8&YOF","k":"pt","x":39.5,"y":36,"d":0.45},
    {"p":"L8&YOF","k":"pt","x":32.8,"y":51.5,"d":0.55},
    {"p":"L8&YOF","k":"pt","x":28.8,"y":48.1,"d":0.55},
    {"p":"L8&YOF","k":"pt","x":30.1,"y":39.5,"d":0.6},
    {"p":"L8&YOF","k":"pt","x":26.1,"y":42.9,"d":0.6},
    {"p":"L8&YOF","k":"pt","x":27.4,"y":29.2,"d":0.55},
    {"p":"L8&YOF","k":"pt","x":22,"y":37.8,"d":0.65},
    {"p":"L8&YOF","k":"pt","x":19.4,"y":42.9,"d":0.6},
    {"p":"L8&YOF","k":"pt","x":20.7,"y":29.2,"d":0.7},
    {"p":"L8&YOF","k":"pt","x":15.4,"y":32.6,"d":0.85},
    {"p":"L8&YOF","k":"pt","x":12.7,"y":37.8,"d":0.9},
    {"p":"L8&YOF","k":"pt","x":10,"y":29.2,"d":1.0},
    {"p":"L8&YOF","k":"pt","x":8.7,"y":37.8,"d":0.85},
    {"p":"L8&YOF","k":"pt","x":3.3,"y":41.2,"d":0.7},
    {"p":"L8&YOF","k":"pt","x":2,"y":32.6,"d":0.65},
    {"p":"L8&YOF","k":"pt","x":0.7,"y":27.5,"d":0.65},
    {"p":"L8&YOF","k":"pt","x":6,"y":24,"d":0.7},
    {"p":"L8&YOF","k":"pt","x":2,"y":18.9,"d":0.55},
    {"p":"L8&YOF","k":"pt","x":2,"y":13.7,"d":0.5},
    {"p":"L8&YOF","k":"pt","x":8.7,"y":20.6,"d":0.7},
    {"p":"L8&YOF","k":"pt","x":14,"y":25.8,"d":0.85},
    {"p":"L8&YOF","k":"pt","x":4.7,"y":32.6,"d":0.75},
    {"p":"L8&YOF","k":"pt","x":16.7,"y":28.3,"d":0.75},
    {"p":"L8&YOF","k":"pt","x":5,"y":28,"d":0.75},
    {"p":"L8&YOF","k":"pt","x":10,"y":34,"d":0.9},
    {"p":"L8&YOF","k":"pt","x":13,"y":30,"d":1.0},
    {"p":"L8&YOF","k":"pt","x":17,"y":36,"d":0.85},
    {"p":"L8&YOF","k":"pt","x":7,"y":43,"d":0.7},
    {"p":"L8&YOF","k":"pt","x":23,"y":33,"d":0.7},
    {"p":"L8&YOF","k":"pt","x":25,"y":38,"d":0.65},
    {"p":"L8&YOF","k":"pt","x":33,"y":44,"d":0.55},
    {"p":"L8&YOF","k":"pt","x":35,"y":36,"d":0.5},
    {"p":"L8&YOF","k":"pt","x":18,"y":24,"d":0.8},
    {"p":"L8&YOF","k":"pt","x":4,"y":22,"d":0.65},
    {"p":"L8&YOF","k":"pt","x":42,"y":50,"d":0.4},
    {"p":"L8&YOF","k":"pt","x":56,"y":52,"d":0.2},
    {"p":"L8&YOF","k":"pt","x":30,"y":33,"d":0.55}
  ]},
  "facet": {
    "field": "p", "type": "nominal",
    "sort": ["L8&All","L8&HMF","L8&MAF","L8&NEF","L8&SES","L8&SHS","L8&SSS","L8&SUS","L8&YOF"],
    "header": {"title": "Observed AGB (Mg/ha)", "titleOrient": "bottom", "labels": false, "labelExpr": "''", "labelFontSize": 1, "labelPadding": 0, "titleFont": "Liberation Serif", "titleFontSize": 77, "titleFontWeight": "bold", "titleColor": "#000000", "titlePadding": 4}
  },
  "columns": 3,
  "spacing": {"row": 33, "column": 34},
  "spec": {
    "width": 860,
    "height": 776,
    "encoding": {
      "x": {"type": "quantitative", "scale": {"domain": [-15, 315], "nice": false, "zero": false},
        "axis": {"title": null, "labelPadding": 16, "values": [0,50,100,150,200,250,300], "labelExpr": "datum.value % 100 == 0 ? datum.label : ''", "tickOpacity": {"condition": {"test": "datum.value % 100 != 0", "value": 0}, "value": 1}}},
      "y": {"type": "quantitative", "scale": {"domain": [-15, 373.5], "nice": false, "zero": false},
        "axis": {"title": null, "labelPadding": 10, "values": [0,50,100,150,200,250,300], "labelExpr": "datum.value % 100 == 0 ? datum.label : ''", "tickOpacity": {"condition": {"test": "datum.value % 100 != 0", "value": 0}, "value": 1}}}
    },
    "layer": [
      {
        "transform": [{"filter": "datum.k == 'pt'"}],
        "mark": {"type": "circle", "size": 420, "opacity": 1},
        "encoding": {
          "x": {"field": "x", "type": "quantitative"},
          "y": {"field": "y", "type": "quantitative"},
          "color": {"field": "d", "type": "quantitative", "scale": {"scheme": "viridis", "domain": [0, 1]}, "legend": null},
          "order": {"field": "d", "type": "quantitative"}
        }
      },
      {
        "transform": [{"filter": "datum.k == 'lab'"}],
        "mark": {"type": "rule", "color": "#D95F02", "strokeWidth": 7, "strokeDash": [46, 42], "strokeDashOffset": 10},
        "encoding": {"x": {"datum": -15}, "y": {"datum": -15}, "x2": {"datum": 315}, "y2": {"datum": 315}}
      },
      {
        "transform": [{"filter": "datum.k == 'lab'"}],
        "mark": {"type": "rect", "fill": "#D9D9D9"},
        "encoding": {"x": {"datum": -15}, "x2": {"datum": 315}, "y": {"datum": 315}, "y2": {"datum": 373.5}}
      },
      {
        "transform": [{"filter": "datum.k == 'lab'"}],
        "mark": {"type": "rule", "color": "#333333", "strokeWidth": 5},
        "encoding": {"x": {"datum": -15}, "x2": {"datum": 315}, "y": {"datum": 315}}
      },
      {
        "transform": [{"filter": "datum.k == 'lab'"}],
        "mark": {"type": "rect", "fill": null, "fillOpacity": 0, "stroke": "#333333", "strokeWidth": 5},
        "encoding": {"x": {"datum": -15}, "x2": {"datum": 315}, "y": {"datum": -15}, "y2": {"datum": 373.5}}
      },
      {
        "transform": [{"filter": "datum.k == 'lab'"}],
        "mark": {"type": "text", "font": "Liberation Serif", "fontSize": 57, "color": "#000000", "align": "center", "baseline": "middle"},
        "encoding": {"x": {"datum": 117}, "y": {"datum": 278}, "text": {"field": "label"}}
      },
      {
        "transform": [{"filter": "datum.k == 'lab'"}],
        "mark": {"type": "text", "font": "Liberation Serif", "fontSize": 60, "fontWeight": "bold", "color": "#1A1A1A", "align": "center", "baseline": "middle"},
        "encoding": {"x": {"datum": 150}, "y": {"datum": 344.25}, "text": {"field": "p"}}
      }
    ]
  },
  "config": {
    "view": {"stroke": null},
    "font": "Liberation Serif",
    "axis": {
      "domain": false,
      "grid": true,
      "gridColor": "#EBEBEB",
      "gridWidth": 4.5,
      "tickColor": "#333333",
      "tickWidth": 4,
      "tickSize": 14,
      "labelFont": "Liberation Serif",
      "labelFontWeight": "bold",
      "labelFontSize": 61,
      "labelColor": "#4D4D4D"
    }
  }
}
